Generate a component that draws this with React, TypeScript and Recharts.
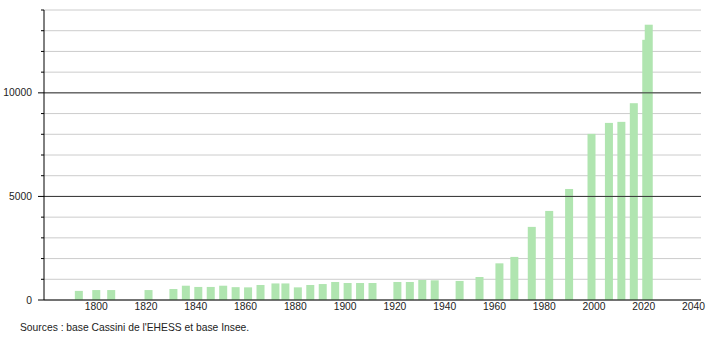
import { Bar, BarChart, CartesianGrid, ReferenceLine, XAxis, YAxis } from "recharts";

const years = [
  1793, 1800, 1806, 1821, 1831, 1836, 1841, 1846, 1851, 1856, 1861, 1866, 1872,
  1876, 1881, 1886, 1891, 1896, 1901, 1906, 1911, 1921, 1926, 1931, 1936, 1946,
  1954, 1962, 1968, 1975, 1982, 1990, 1999, 2006, 2011, 2016, 2021, 2022,
];
const population = [
  440, 480, 480, 480, 530, 690, 630, 630, 690, 620, 610, 725, 800, 800, 610, 725,
  770, 870, 820, 820, 820, 870, 870, 965, 950, 920, 1110, 1770, 2080, 3530, 4300,
  5360, 8020, 8550, 8600, 9500, 12560, 13290,
];
const xTicks = [1800, 1820, 1840, 1860, 1880, 1900, 1920, 1940, 1960, 1980, 2000, 2020, 2040];
const yTicks = [0, 1000, 2000, 3000, 4000, 5000, 6000, 7000, 8000, 9000, 10000, 11000, 12000, 13000, 14000];
const majorTicks = [5000, 10000];
const source = "Sources : base Cassini de l'EHESS et base Insee.";

const data = years.map((year, i) => ({ year, population: population[i] }));

const FONT = "'Liberation Sans', Arial, sans-serif";
const FONT_SIZE = 10.3;
const BAR_W = 8;

/** Y tick: short mark every 1000, longer mark + label every 5000. */
function YTick({ x, y, payload }: { x?: number; y?: number; payload?: { value: number } }) {
  if (x == null || y == null || !payload) return null;
  const v = payload.value;
  const major = v % 5000 === 0;
  return (
    <g>
      <line x1={44 - (major ? 6 : 3)} x2={44} y1={y} y2={y} stroke="#000" strokeWidth={1} />
      {major && (
        <text x={32} y={y} dy="0.35em" textAnchor="end" fontSize={FONT_SIZE} fill="#222" fontFamily={FONT}>
          {v}
        </text>
      )}
    </g>
  );
}

/** Fixed-width bar centred on the census year (band is too narrow for 2021/2022). */
function CensusBar(props: { x?: number; y?: number; width?: number; height?: number }) {
  const { x = 0, y = 0, width = 0, height = 0 } = props;
  if (height <= 0) return null;
  return <rect x={x + width / 2 - BAR_W / 2} y={y} width={BAR_W} height={height} fill="#b0e5b0" />;
}

export default function App() {
  return (
    <div style={{ position: "absolute", left: 0, top: 0, width: 710, height: 340, background: "#fff" }}>
      <BarChart
        width={710}
        height={340}
        data={data}
        margin={{ top: 10, right: 9, bottom: 0, left: 0 }}
      >
        <CartesianGrid horizontal vertical={false} stroke="#cccccc" />
        <XAxis
          dataKey="year"
          type="number"
          domain={[1779, 2043]}
          ticks={xTicks}
          interval={0}
          tickLine={false}
          tickSize={0}
          tickMargin={3}
          height={40}
          stroke="#000"
          tick={{ fill: "#222", fontSize: FONT_SIZE, fontFamily: FONT }}
        />
        <YAxis
          type="number"
          domain={[0, 14000]}
          ticks={yTicks}
          interval={0}
          width={44}
          stroke="#000"
          tickLine={false}
          tick={<YTick />}
        />
        {majorTicks.map((v) => (
          <ReferenceLine key={v} y={v} stroke="#333" strokeWidth={1} />
        ))}
        <Bar dataKey="population" fill="#b0e5b0" shape={<CensusBar />} isAnimationActive={false} />
      </BarChart>
      <div
        style={{
          position: "absolute",
          left: 20,
          top: 322,
          fontFamily: FONT,
          fontSize: FONT_SIZE,
          color: "#222",
          whiteSpace: "nowrap",
        }}
      >
        {source}
      </div>
    </div>
  );
}
